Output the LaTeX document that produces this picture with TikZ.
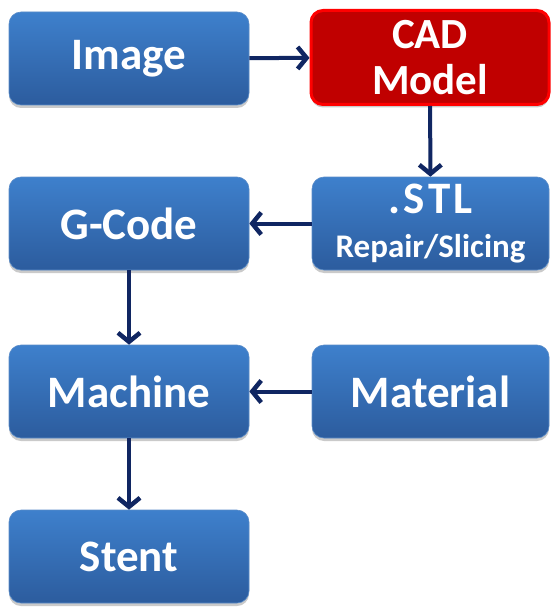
\documentclass[tikz,border=0pt]{standalone}
\usepackage{fontspec}
\setmainfont{Carlito}
\usetikzlibrary{arrows.meta,shadows}
\definecolor{boxtop}{RGB}{62,128,204}
\definecolor{boxbot}{RGB}{44,92,158}
\definecolor{boxedge}{RGB}{90,140,200}
\definecolor{cadfill}{RGB}{192,0,0}
\definecolor{cadedge}{RGB}{255,0,0}
\definecolor{arrowcol}{RGB}{16,38,98}
\tikzset{
  blockbox/.style={rounded corners=12pt, minimum width=240pt, minimum height=93pt,
    top color=boxtop, bottom color=boxbot, draw=boxedge, line width=0.6pt,
    text=white, font=\bfseries\fontsize{45}{50}\selectfont, align=center,
    inner sep=0pt, drop shadow={shadow xshift=0pt, shadow yshift=-3pt, opacity=0.35, fill=black!60}},
  cadbox/.style={blockbox, top color=cadfill, bottom color=cadfill, draw=cadedge, line width=3pt,
    minimum width=238pt, minimum height=94pt, font=\bfseries\fontsize{43}{50}\selectfont},
  flow/.style={draw=arrowcol, line width=4pt, -{Straight Barb[length=9pt,width=22pt,line width=4.5pt]}}
}
\begin{document}
\begin{tikzpicture}[x=1pt,y=-1pt]
\useasboundingbox (0,0) rectangle (552,607);
\node[blockbox] (image) at (129,58.5) {Image};
\node[cadbox] (cad) at (430,57.5) {CAD\\[-4pt]Model};
\node[blockbox, minimum width=237pt] (stl) at (430.5,223.5) {{\addfontfeature{LetterSpace=8}.STL}\\[-6pt]{\fontsize{33}{34}\selectfont Repair/Slicing}};
\node[blockbox] (gcode) at (129,223.5) {G-Code};
\node[blockbox] (machine) at (129,391.5) {Machine};
\node[blockbox, minimum width=237pt] (material) at (430.5,391.5) {Material};
\node[blockbox] (stent) at (129,556.5) {Stent};
\draw[flow] (image) -- (cad);
\draw[flow] (cad) -- (stl);
\draw[flow] (stl) -- (gcode);
\draw[flow] (gcode) -- (machine);
\draw[flow] (material) -- (machine);
\draw[flow] (machine) -- (stent);
\end{tikzpicture}
\end{document}
